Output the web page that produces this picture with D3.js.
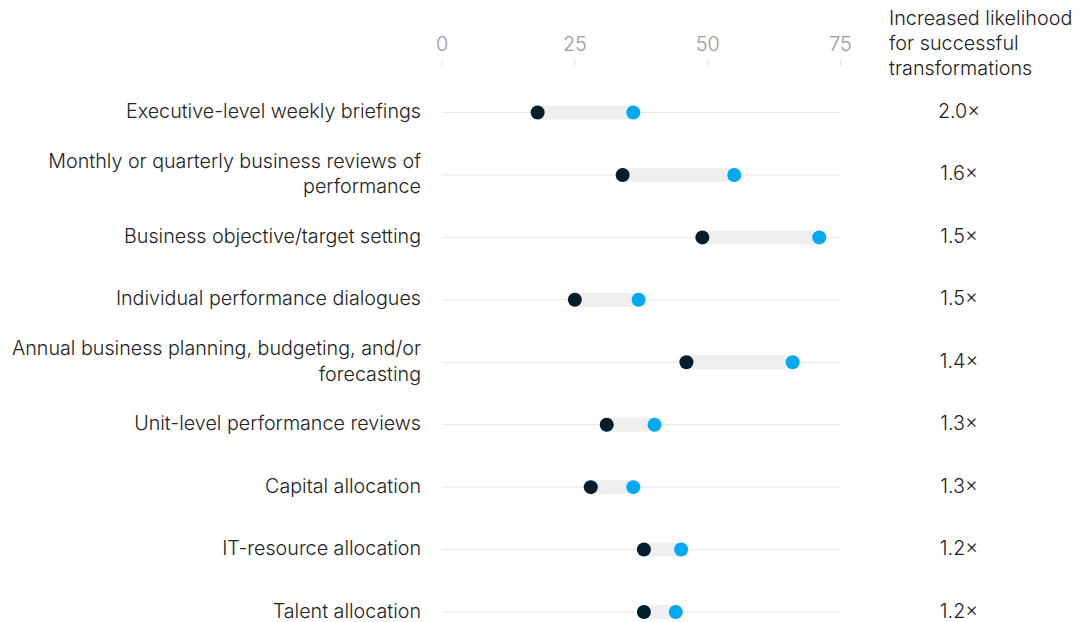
<!DOCTYPE html>
<html>
<head>
    <meta charset="utf-8">
    <title>Dumbbell chart</title>
    <script src="https://d3js.org/d3.v7.min.js"></script>
    <style>
        body { margin: 0; background: #fff; }
        text { font-family: "Inter", "Liberation Sans", sans-serif; }
    </style>
</head>
<body>
    <div id="chart"></div>
    <script>
        // data
        const categories = [
            "Executive-level weekly briefings",
            "Monthly or quarterly business reviews of performance",
            "Business objective/target setting",
            "Individual performance dialogues",
            "Annual business planning, budgeting, and/or forecasting",
            "Unit-level performance reviews",
            "Capital allocation",
            "IT-resource allocation",
            "Talent allocation"
        ];
        // wrapped labels as shown
        const labelLines = [
            ["Executive-level weekly briefings"],
            ["Monthly or quarterly business reviews of", "performance"],
            ["Business objective/target setting"],
            ["Individual performance dialogues"],
            ["Annual business planning, budgeting, and/or", "forecasting"],
            ["Unit-level performance reviews"],
            ["Capital allocation"],
            ["IT-resource allocation"],
            ["Talent allocation"]
        ];
        const lowValues = [18, 34, 49, 25, 46, 31, 28, 38, 38];
        const highValues = [36, 55, 71, 37, 66, 40, 36, 45, 44];
        const likelihood = ["2.0×", "1.6×", "1.5×", "1.5×", "1.4×", "1.3×", "1.3×", "1.2×", "1.2×"];
        const tickValues = [0, 25, 50, 75];
        const headerLines = ["Increased likelihood", "for successful", "transformations"];

        const width = 1083, height = 622;
        const navy = "#051c2c", blue = "#00a9f4";

        const svg = d3.select("#chart")
            .append("svg")
            .attr("width", width)
            .attr("height", height);

        const x = d3.scaleLinear()
            .domain([0, 75])
            .range([442, 840.5]);

        const y = d3.scalePoint()
            .domain(categories)
            .range([112.5, 612]);

        // axis labels + ticks
        const axis = svg.append("g");
        axis.selectAll("text")
            .data(tickValues)
            .join("text")
            .attr("x", d => x(d))
            .attr("y", 51)
            .attr("text-anchor", "middle")
            .attr("fill", "#9a9a9a")
            .style("font-size", "19.8px")
            .style("font-weight", 300)
            .text(d => d);
        axis.selectAll("line")
            .data(tickValues)
            .join("line")
            .attr("x1", d => x(d)).attr("x2", d => x(d))
            .attr("y1", 60).attr("y2", 66)
            .attr("stroke", "#e0e0e0")
            .attr("stroke-width", 1);

        // header on right
        svg.append("g").selectAll("text")
            .data(headerLines)
            .join("text")
            .attr("x", 889)
            .attr("y", (d, i) => 25 + i * 25)
            .attr("fill", "#222")
            .style("font-size", "19.8px")
            .style("font-weight", 300)
            .text(d => d);

        const rows = svg.append("g").selectAll("g")
            .data(categories)
            .join("g")
            .attr("transform", d => `translate(0, ${y(d)})`);

        // baseline
        rows.append("line")
            .attr("x1", x(0)).attr("x2", x(75))
            .attr("y1", 0).attr("y2", 0)
            .attr("stroke", "#e6e6e6")
            .attr("stroke-width", 1);

        // range band
        rows.append("rect")
            .attr("x", (d, i) => x(lowValues[i]))
            .attr("y", -7)
            .attr("width", (d, i) => x(highValues[i]) - x(lowValues[i]))
            .attr("height", 14)
            .attr("fill", "#efefef");

        rows.append("circle")
            .attr("cx", (d, i) => x(lowValues[i]))
            .attr("r", 7)
            .attr("fill", navy);

        rows.append("circle")
            .attr("cx", (d, i) => x(highValues[i]))
            .attr("r", 7)
            .attr("fill", blue);

        // category labels
        rows.append("text")
            .attr("text-anchor", "end")
            .attr("fill", "#222")
            .style("font-size", "19.7px")
            .style("font-weight", 300)
            .each(function (d, i) {
                const lines = labelLines[i];
                const t = d3.select(this);
                lines.forEach((l, j) => {
                    t.append("tspan")
                        .attr("x", 421)
                        .attr("y", (j - (lines.length - 1) / 2) * 25.5 + 5.5)
                        .text(l);
                });
            });

        // likelihood values
        rows.append("text")
            .attr("x", 959)
            .attr("y", 5.5)
            .attr("text-anchor", "middle")
            .attr("fill", "#222")
            .style("font-size", "19.7px")
            .style("font-weight", 300)
            .text((d, i) => likelihood[i]);
    </script>
</body>
</html>
